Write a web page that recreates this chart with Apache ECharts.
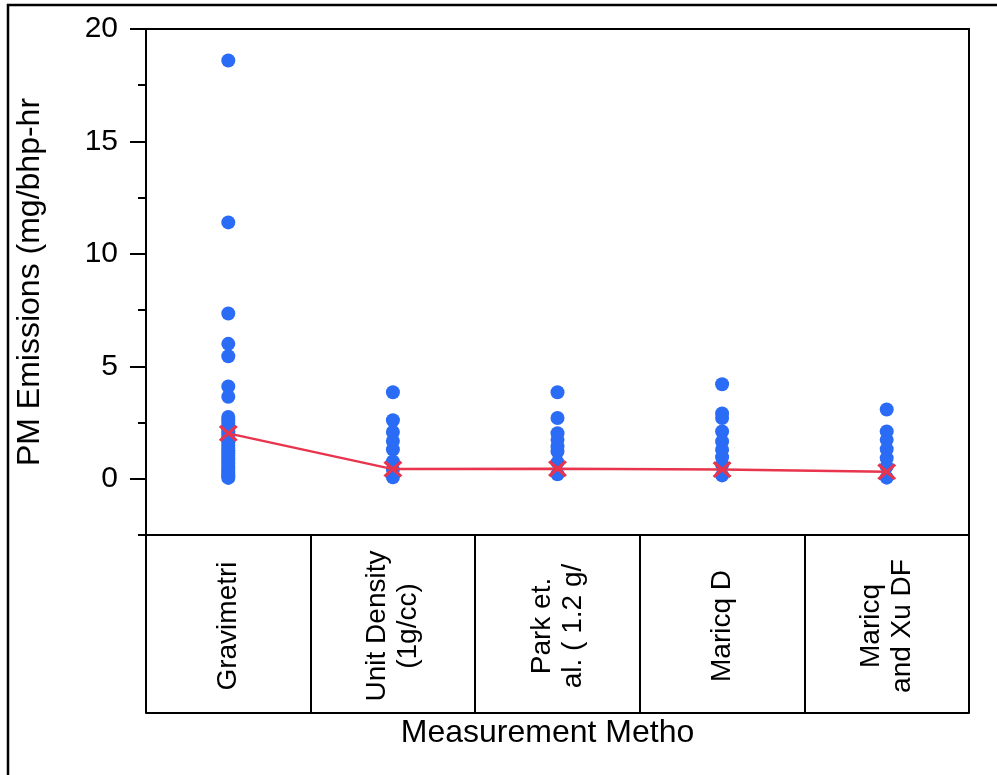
<!DOCTYPE html>
<html>
<head>
<meta charset="utf-8">
<script src="https://cdn.jsdelivr.net/npm/echarts@6/dist/echarts.min.js"></script>
<style>
  html, body { margin: 0; padding: 0; background: #fff; }
  #chart { width: 997px; height: 775px; }
</style>
</head>
<body>
<div id="chart"></div>
<script>
// Measurement methods (category axis)
const methods = [
  'Gravimetri',
  'Unit Density\n(1g/cc)',
  'Park et.\nal. ( 1.2 g/',
  'Maricq D',
  'Maricq\nand Xu DF'
];

// Individual PM emission results per method (mg/bhp-hr)
const gravimetric = [18.6, 11.4, 7.35, 6.0, 5.45, 4.1, 3.65, 2.75, 2.6,
  2.48, 2.35, 2.22, 2.1, 1.98, 1.86, 1.74, 1.62, 1.5, 1.38, 1.26, 1.14,
  1.02, 0.9, 0.8, 0.68, 0.57, 0.46, 0.36, 0.27, 0.18, 0.1, 0.04];
const unitDensity = [3.85, 2.6, 2.08, 1.68, 1.3, 0.77, 0.4, 0.07];
const parkEtAl = [3.85, 2.7, 2.03, 1.73, 1.44, 1.21, 0.73, 0.2];
const maricqD = [4.2, 2.9, 2.7, 2.1, 1.66, 1.29, 0.96, 0.62, 0.15];
const maricqXuDF = [3.08, 2.1, 1.73, 1.32, 0.92, 0.55, 0.05];

// Mean of each method
const means = [2.02, 0.43, 0.45, 0.41, 0.31];

// Y axis range and labelled (major) ticks
const yMin = -2.5;
const yMax = 20;
const majorTicks = [0, 5, 10, 15, 20];

const groups = [gravimetric, unitDensity, parkEtAl, maricqD, maricqXuDF];
const points = [];
groups.forEach((vals, i) => vals.forEach(v => points.push([i, v])));

const FONT = "'Liberation Sans', Arial, sans-serif";
const crossPath = 'path://M2.5,0L10,7.5L17.5,0L20,2.5L12.5,10L20,17.5L17.5,20L10,12.5L2.5,20L0,17.5L7.5,10L0,2.5Z';

const chart = echarts.init(document.getElementById('chart'), null, { renderer: 'canvas' });
chart.setOption({
  animation: false,
  backgroundColor: '#ffffff',
  textStyle: { fontFamily: FONT },
  grid: {
    left: 146, right: 28, top: 29, bottom: 240,
    show: true, borderColor: '#000', borderWidth: 2, backgroundColor: 'transparent'
  },
  xAxis: [{
    type: 'category',
    data: methods,
    boundaryGap: true,
    position: 'bottom',
    axisLine: { show: true, onZero: false, lineStyle: { color: '#000', width: 2 } },
    axisTick: { show: true, alignWithLabel: false, length: 178, inside: false,
      lineStyle: { color: '#000', width: 2 } },
    axisLabel: {
      rotate: 90, margin: 91, align: 'center', verticalAlign: 'middle',
      color: '#000', fontSize: 28, lineHeight: 31, fontFamily: FONT
    },
    splitLine: { show: false },
    name: 'Measurement Metho',
    nameLocation: 'middle',
    nameGap: 182,
    nameTextStyle: { color: '#000', fontSize: 32, fontFamily: FONT, padding: [0, 20, 0, 0] }
  }, {
    type: 'category',
    data: methods,
    position: 'bottom',
    offset: 178,
    axisLine: { show: true, onZero: false, lineStyle: { color: '#000', width: 2 } },
    axisTick: { show: false },
    axisLabel: { show: false }
  }],
  yAxis: [{
    type: 'value',
    min: yMin, max: yMax, interval: 2.5,
    axisLine: { show: true, lineStyle: { color: '#000', width: 2 } },
    axisTick: { show: true, length: 8, lineStyle: { color: '#000', width: 2 } },
    axisLabel: {
      margin: 28, color: '#000', fontSize: 30, fontFamily: FONT,
      formatter: v => (v >= 0 && v % 5 === 0) ? String(v) : ''
    },
    splitLine: { show: false },
    name: 'PM Emissions (mg/bhp-hr',
    nameLocation: 'middle',
    nameRotate: 90,
    nameGap: 100,
    nameTextStyle: { color: '#000', fontSize: 32, fontFamily: FONT }
  }, {
    type: 'value',
    position: 'left',
    min: yMin, max: yMax,
    axisLine: { show: false },
    axisTick: { show: true, length: 16, customValues: majorTicks,
      lineStyle: { color: '#000', width: 2 } },
    axisLabel: { show: false },
    splitLine: { show: false }
  }],
  series: [{
    type: 'scatter',
    data: points,
    symbol: 'circle',
    symbolSize: 14,
    itemStyle: { color: '#2b6cf6', opacity: 1 },
    z: 2
  }, {
    type: 'line',
    data: means,
    symbol: crossPath,
    symbolSize: [19, 17],
    itemStyle: { color: '#e8344c' },
    lineStyle: { color: '#e8344c', width: 2.5 },
    z: 3
  }],
  graphic: [{
    type: 'polyline',
    shape: { points: [[997, 5], [8, 5], [8, 775]] },
    style: { stroke: '#000', lineWidth: 2.5, fill: null },
    silent: true
  }]
});
</script>
</body>
</html>
